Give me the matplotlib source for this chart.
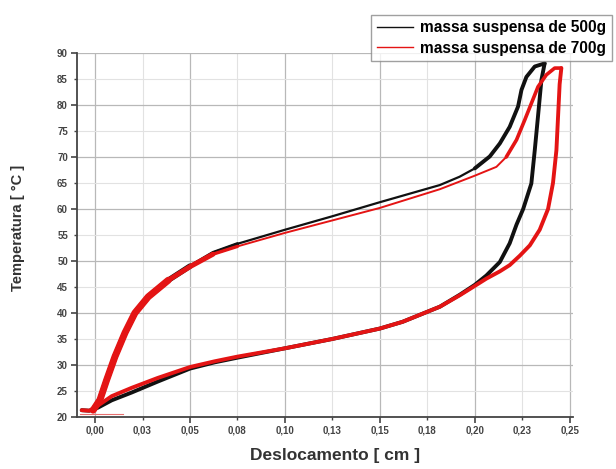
import numpy as np
import matplotlib.pyplot as plt
from matplotlib.ticker import MultipleLocator, FuncFormatter

plt.rcParams['font.family'] = ['Liberation Sans', 'DejaVu Sans']

# 500 g: lower branch (left to peak) and upper branch (peak back to start)
x500_low = [-0.007, -0.003, 0.0016, 0.0088, 0.0193, 0.033, 0.050, 0.063, 0.075, 0.100,
            0.125, 0.150, 0.162, 0.1816, 0.1921, 0.200, 0.2061, 0.2132, 0.2184, 0.222,
            0.2255, 0.2298, 0.2316, 0.2333, 0.2351, 0.2368]
T500_low = [21.3, 21.2, 21.8, 23.2, 24.7, 26.8, 29.3, 30.5, 31.4, 33.2,
            35.0, 37.0, 38.3, 41.2, 43.5, 45.4, 47.2, 49.8, 53.4, 57.0,
            60.0, 64.9, 71.3, 77.8, 84.8, 88.0]
x500_upp = [0.2368, 0.2316, 0.2272, 0.2246, 0.2228, 0.2184, 0.2132, 0.2079, 0.200, 0.192,
            0.1816, 0.150, 0.125, 0.100, 0.075, 0.0621, 0.050, 0.0386, 0.028, 0.021,
            0.0158, 0.0105, 0.0061, 0.0026, -0.001]
T500_upp = [88.0, 87.4, 85.4, 82.9, 79.7, 75.8, 72.6, 70.1, 67.8, 66.2,
            64.6, 61.3, 58.6, 56.0, 53.3, 51.6, 49.0, 46.3, 43.1, 40.0,
            36.2, 31.6, 27.1, 23.3, 21.3]

# 700 g
x700_low = [-0.007, -0.003, 0.0016, 0.0088, 0.0193, 0.033, 0.050, 0.063, 0.075, 0.100,
            0.125, 0.150, 0.162, 0.1816, 0.1921, 0.200, 0.2061, 0.2132, 0.2184, 0.2237,
            0.229, 0.2342, 0.2386, 0.2412, 0.243, 0.2439, 0.2447, 0.2456]
T700_low = [21.3, 21.2, 22.2, 24.0, 25.6, 27.5, 29.6, 30.7, 31.6, 33.2,
            35.0, 37.0, 38.3, 41.2, 43.4, 45.2, 46.6, 48.0, 49.2, 51.0,
            53.0, 56.0, 60.0, 65.0, 71.3, 78.0, 84.0, 87.1]
x700_upp = [0.2456, 0.2421, 0.2377, 0.2333, 0.2298, 0.2263, 0.222, 0.2166, 0.2114, 0.200,
            0.1816, 0.150, 0.125, 0.100, 0.075, 0.0621, 0.050, 0.0386, 0.028, 0.021,
            0.0158, 0.0105, 0.0061, 0.0026, -0.001]
T700_upp = [87.1, 87.1, 85.8, 83.5, 80.3, 77.1, 73.3, 70.0, 68.1, 66.4,
            63.8, 60.2, 57.8, 55.4, 52.8, 51.3, 48.9, 46.3, 43.1, 40.0,
            36.2, 31.6, 27.1, 23.3, 21.3]
x700_tail = [-0.008, 0.0147]
T700_tail = [20.6, 20.6]

black = '#111111'
red = '#e41414'

fig = plt.figure(figsize=(6.16, 4.69), dpi=100)
ax = fig.add_axes([0.125, 0.111, 0.806, 0.776])

kw = dict(solid_joinstyle='round', solid_capstyle='round')
# black loop; the dense ends of each branch are drawn heavier
ax.plot(x500_low, T500_low, color=black, lw=2.8, **kw)
ax.plot(x500_upp, T500_upp, color=black, lw=1.6, **kw)
ax.plot(x500_upp[:9], T500_upp[:9], color=black, lw=2.8, **kw)
ax.plot(x500_upp[14:], T500_upp[14:], color=black, lw=2.4, **kw)
ax.plot(x500_upp[16:], T500_upp[16:], color=black, lw=4.0, **kw)
# red loop
ax.plot(x700_tail, T700_tail, color='#e87070', lw=0.8)
ax.plot(x700_low, T700_low, color=red, lw=2.8, **kw)
ax.plot(x700_upp, T700_upp, color=red, lw=1.4, **kw)
ax.plot(x700_upp[:8], T700_upp[:8], color=red, lw=2.6, **kw)
ax.plot(x700_upp[14:], T700_upp[14:], color=red, lw=2.4, **kw)
ax.plot(x700_upp[15:], T700_upp[15:], color=red, lw=3.6, **kw)
ax.plot(x700_upp[17:], T700_upp[17:], color=red, lw=5.0, **kw)

h1, = ax.plot([], [], color=black, lw=1, label='massa suspensa de 500g')
h2, = ax.plot([], [], color=red, lw=1, label='massa suspensa de 700g')

ax.set_xlim(-0.0095, 0.252)
ax.set_ylim(20, 90)

ax.xaxis.set_major_locator(MultipleLocator(0.05))
ax.xaxis.set_minor_locator(MultipleLocator(0.025))
ax.yaxis.set_major_locator(MultipleLocator(10))
ax.yaxis.set_minor_locator(MultipleLocator(5))

fmt_x = FuncFormatter(lambda v, p: ('%.2f' % (v + 1e-9)).replace('.', ','))
fmt_y = FuncFormatter(lambda v, p: '%d' % round(v))
ax.xaxis.set_major_formatter(fmt_x)
ax.xaxis.set_minor_formatter(fmt_x)
ax.yaxis.set_major_formatter(fmt_y)
ax.yaxis.set_minor_formatter(fmt_y)

ax.tick_params(which='major', length=4, width=1.2, pad=2.5, labelsize=7, colors='#444444')
ax.tick_params(which='minor', length=2.5, width=1.0, pad=4.0, labelsize=7, colors='#444444')
for lab in ax.get_xticklabels(which='both') + ax.get_yticklabels(which='both'):
    lab.set_fontweight('bold')

ax.grid(which='major', color='#b8b8b8', lw=0.9)
ax.grid(which='minor', color='#e2e2e2', lw=0.8)
ax.set_axisbelow(True)

for s in ['top', 'right']:
    ax.spines[s].set_visible(False)
for s in ['left', 'bottom']:
    ax.spines[s].set_color('#444444')
    ax.spines[s].set_linewidth(1.3)

ax.set_xlabel('Deslocamento [ cm ]', fontsize=12.5, fontweight='bold', color='#333333')
ax.xaxis.set_label_coords(0.52, -0.085)
ax.set_ylabel('Temperatura [ °C ]', fontsize=10.5, fontweight='bold', color='#333333')
ax.yaxis.set_label_coords(-0.104, 0.52)

fig.legend(handles=[h1, h2], loc='upper right', bbox_to_anchor=(1.006, 0.985),
           frameon=True, fancybox=False, edgecolor='#888888',
           handlelength=2.3, borderpad=0.35, labelspacing=0.35, handletextpad=0.5,
           prop={'weight': 'bold', 'size': 11.2})

fig.savefig('out.png', dpi=100)
